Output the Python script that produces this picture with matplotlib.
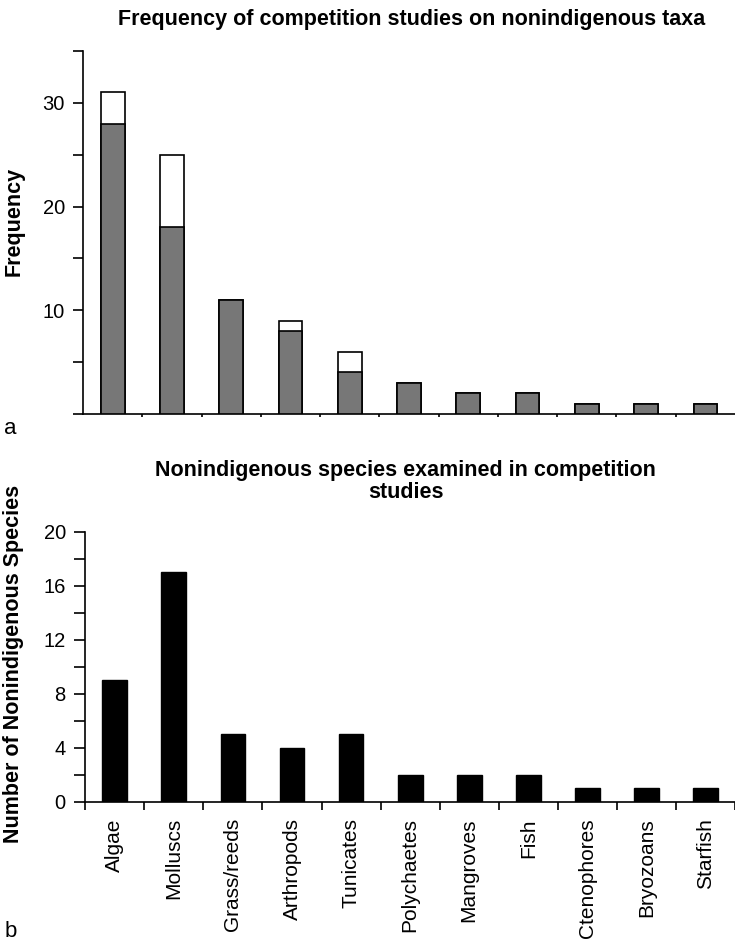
import numpy as np
import matplotlib
matplotlib.use("Agg")
import matplotlib.pyplot as plt

plt.rcParams['font.family'] = ['Liberation Sans', 'DejaVu Sans']

# taxa and counts
taxa = ["Algae", "Molluscs", "Grass/reeds", "Arthropods", "Tunicates", "Polychaetes",
        "Mangroves", "Fish", "Ctenophores", "Bryozoans", "Starfish"]
freq_grey = [28, 18, 11, 8, 4, 3, 2, 2, 1, 1, 1]
freq_total = [31, 25, 11, 9, 6, 3, 2, 2, 1, 1, 1]
n_species = [9, 17, 5, 4, 5, 2, 2, 2, 1, 1, 1]

x = np.arange(len(taxa))
fig = plt.figure(figsize=(7.35, 9.43), dpi=100)

# panel a
ax1 = fig.add_axes([0.113, 0.561, 0.887, 0.385])
ax1.bar(x, freq_total, width=0.4, color="white", edgecolor="black", linewidth=1.2, zorder=2)
ax1.bar(x, freq_grey, width=0.4, color="#777777", edgecolor="black", linewidth=1.2, zorder=3)
ax1.set_xlim(-0.5, len(taxa) - 0.5)
ax1.set_ylim(0, 35)
ax1.set_yticks([10, 20, 30])
ax1.set_yticks([0, 5, 15, 25, 35], minor=True)
ax1.set_xticks(x[:-1] + 0.5)
ax1.set_xticklabels([])
ax1.tick_params(axis="y", which="major", length=7, width=1.2, labelsize=14.5, pad=6)
ax1.tick_params(axis="y", which="minor", length=7, width=1.2)
ax1.tick_params(axis="x", length=2, width=1.2)
for s in ["top", "right"]:
    ax1.spines[s].set_visible(False)
for s in ["left", "bottom"]:
    ax1.spines[s].set_linewidth(1.2)
ax1.set_ylabel("Frequency", fontsize=15.5, fontweight="bold")
ax1.yaxis.set_label_coords(-0.090, 0.53)
fig.text(0.56, 0.979, "Frequency of competition studies on nonindigenous taxa",
         ha="center", va="center", fontsize=15.5, fontweight="bold")
fig.text(0.006, 0.546, "a", fontsize=16, ha="left", va="center")

# panel b
ax2 = fig.add_axes([0.116, 0.150, 0.884, 0.286])
ax2.bar(x, n_species, width=0.42, color="black", edgecolor="black", zorder=2)
ax2.set_xlim(-0.5, len(taxa) - 0.5)
ax2.set_ylim(0, 20)
ax2.set_yticks([0, 4, 8, 12, 16, 20])
ax2.set_yticks([2, 6, 10, 14, 18], minor=True)
ax2.set_xticks(np.arange(len(taxa) + 1) - 0.5, minor=True)
ax2.set_xticks(x)
ax2.set_xticklabels(taxa, rotation=90, fontsize=15)
ax2.tick_params(axis="x", which="major", length=0, pad=12)
ax2.tick_params(axis="x", which="minor", length=6, width=1.2)
ax2.tick_params(axis="y", which="major", length=8, width=1.2, labelsize=14.5, pad=6)
ax2.tick_params(axis="y", which="minor", length=8, width=1.2)
for s in ["top", "right"]:
    ax2.spines[s].set_visible(False)
for s in ["left", "bottom"]:
    ax2.spines[s].set_linewidth(1.2)
ax2.set_ylabel("Number of Nonindigenous Species", fontsize=15.5, fontweight="bold")
ax2.yaxis.set_label_coords(-0.095, 0.51)
fig.text(0.552, 0.489, "Nonindigenous species examined in competition\nstudies",
         ha="center", va="center", fontsize=15.5, fontweight="bold", linespacing=1.05)
fig.text(0.006, 0.012, "b", fontsize=16, ha="left", va="center")

fig.savefig("out.png", dpi=100)
